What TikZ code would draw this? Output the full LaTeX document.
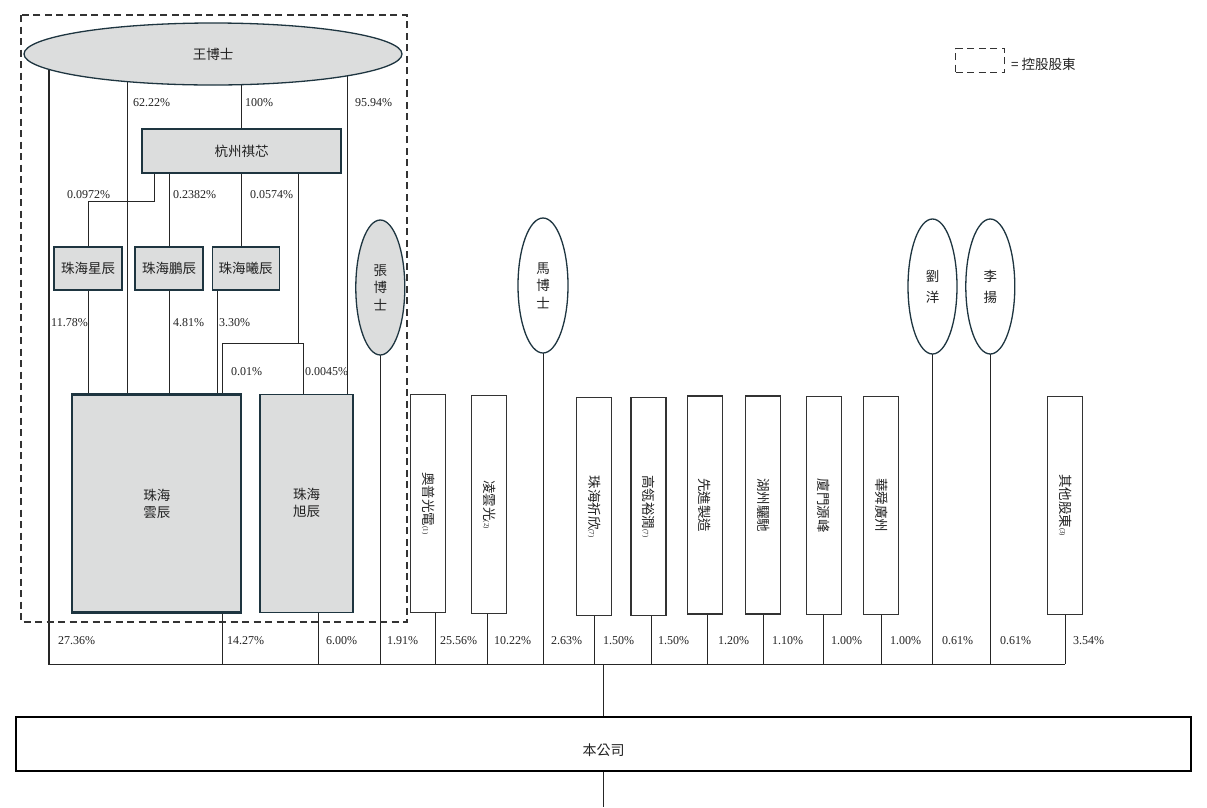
\documentclass[tikz,border=0pt]{standalone}
\usepackage{graphicx}
\usepackage{fontspec}
\setmainfont{Liberation Serif}
\newfontfamily\cjk{Noto Sans CJK TC}
\usetikzlibrary{shapes.geometric}
\pgfdeclarelayer{bg}
\pgfsetlayers{bg,main}
\definecolor{gfill}{HTML}{DCDDDD}
\definecolor{edgec}{HTML}{1E3540}
\definecolor{txt}{HTML}{222222}
\newcommand\myfn[1]{{\fontsize{7}{7}\selectfont\rmfamily #1}}
\tikzset{
  pct/.style={font=\fontsize{12}{14}\selectfont, text=txt, inner sep=0pt, anchor=west},
  cjkt/.style={font=\cjk\fontsize{13.5}{17.5}\selectfont, text=txt},
  gbox/.style={cjkt, draw=edgec, fill=gfill, line width=1.3pt, inner sep=0pt, align=center},
  vbox/.style={cjkt, draw=black!80, fill=white, line width=1.3pt, minimum width=35pt, minimum height=218pt, inner sep=0pt},
  pers/.style={cjkt, ellipse, draw=edgec, line width=1.3pt, inner sep=0pt, minimum width=49pt, minimum height=135pt, align=center},
  conn/.style={line width=0.9pt, draw=black!85},
  ctrl/.style={dash pattern=on 7pt off 4.5pt, line width=1.4pt, draw=black!80}
}
\begin{document}
\begin{tikzpicture}[x=1pt,y=-1pt]
\useasboundingbox (0,0) rectangle (1207,807);
% controlling shareholder group
\draw[ctrl] (21,15) rectangle (407,622);
% nodes
\node[pers, fill=gfill, minimum width=378pt, minimum height=62pt] (wang) at (213,54) {王博士};
\node[gbox, minimum width=199pt, minimum height=44pt] (hz) at (241.5,151) {杭州祺芯};
\node[gbox, minimum width=68pt, minimum height=43pt] (xc) at (88,268.5) {珠海星辰};
\node[gbox, minimum width=68pt, minimum height=43pt] (pc) at (169,268.5) {珠海鵬辰};
\node[gbox, minimum width=67pt, minimum height=43pt] (sc) at (245.7,268.5) {珠海曦辰};
\node[gbox, line width=2.3pt, minimum width=169pt, minimum height=218pt, font=\cjk\fontsize{13.5}{17}\selectfont] (yc) at (156.8,503.5) {珠海\\雲辰};
\node[gbox, minimum width=93pt, minimum height=218pt, font=\cjk\fontsize{13.5}{17}\selectfont] (xuc) at (306.5,503.3) {珠海\\旭辰};
\node[pers, fill=gfill] (zhang) at (380.3,287.5) {張\\博\\士};
\node[pers, fill=white, minimum width=50pt] (ma) at (543,285.5) {馬\\博\\士};
\node[pers, fill=white, font=\cjk\fontsize{13.5}{21}\selectfont] (liu) at (932.5,286.5) {劉\\洋};
\node[pers, fill=white, font=\cjk\fontsize{13.5}{21}\selectfont] (li) at (990.3,286.5) {李\\揚};
% tall boxes
\node[vbox] (aopu) at (428.3,503.3) {\rotatebox{-90}{奧普光電\myfn{(1)}}};
\node[vbox] (lingyun) at (489.2,504.5) {\rotatebox{-90}{凌雲光\myfn{(2)}}};
\node[vbox] (qixin) at (594.3,506.7) {\rotatebox{-90}{珠海祈欣\myfn{(7)}}};
\node[vbox] (gaoling) at (648.5,506.5) {\rotatebox{-90}{高瓴裕潤\myfn{(7)}}};
\node[vbox] (xianjin) at (704.8,505) {\rotatebox{-90}{先進製造}};
\node[vbox] (huzhou) at (763.3,505) {\rotatebox{-90}{湖州驪馳}};
\node[vbox] (xiamen) at (823.7,505.5) {\rotatebox{-90}{廈門源峰}};
\node[vbox] (huashun) at (881.2,505.2) {\rotatebox{-90}{華舜廣州}};
\node[vbox] (others) at (1065.3,505.2) {\rotatebox{-90}{其他股東\myfn{(3)}}};
% company
\node[draw=black, line width=1.5pt, minimum width=1175pt, minimum height=54pt, inner sep=0pt] (company) at (603.5,744) {};
\node[cjkt, font=\cjk\fontsize{14}{14}\selectfont, inner sep=0pt] (companyt) at (603.5,750) {本公司};
% legend
\node[draw, ctrl, minimum width=49pt, minimum height=24pt, inner sep=0pt] (leg) at (980.2,60.5) {};
\node[cjkt, anchor=west, inner sep=0pt] (legt) at (1011,64) {= 控股股東};
% coordinates
\coordinate (busL) at (49,664.3);
\coordinate (busR) at (1065.3,664.3);
\coordinate (x128) at (127.7,0);
\coordinate (x347) at (347,0);
\coordinate (x154) at (154,0);
\coordinate (x217) at (217,0);
\coordinate (x222) at (222,0);
\coordinate (j298) at (298,343);
\coordinate (x303) at (303,0);
\coordinate (x319) at (318.7,0);
\coordinate (x435) at (435,0);
\coordinate (x487) at (487.3,0);
\coordinate (x651) at (651,0);
\coordinate (x707) at (707.3,0);
\coordinate (bottomend) at (0,807);
\begin{pgfonlayer}{bg}
\draw[conn, line width=1.2pt] (busL |- wang.center) -- (busL) -- (busR);
\draw[conn] (x128 |- wang.center) -- (x128 |- yc.north);
\draw[conn] (hz.north |- wang.center) -- (hz.north);
\draw[conn] (x347 |- wang.center) -- (x347 |- xuc.north);
\draw[conn] (x154 |- hz.south) -- ++(0,28) -| (xc.north);
\draw[conn] (pc.north |- hz.south) -- (pc.north);
\draw[conn] (hz.south) -- (hz.south |- sc.north);
\draw[conn] (j298 |- hz.south) -- (j298);
\draw[conn] (x222 |- yc.north) -- (x222 |- j298) -- (x303 |- j298) -- (x303 |- xuc.north);
\draw[conn] (xc.south) -- (xc.south |- yc.north);
\draw[conn] (pc.south) -- (pc.south |- yc.north);
\draw[conn] (x217 |- sc.south) -- (x217 |- yc.north);
\draw[conn] (x222 |- yc.south) -- (x222 |- busL);
\draw[conn] (x319 |- xuc.south) -- (x319 |- busL);
\draw[conn] (zhang.center) -- (zhang.center |- busL);
\draw[conn] (ma.center) -- (ma.center |- busL);
\draw[conn] (liu.center) -- (liu.center |- busL);
\draw[conn] (li.center) -- (li.center |- busL);
\draw[conn] (x435 |- aopu.south) -- (x435 |- busL);
\draw[conn] (x487 |- lingyun.south) -- (x487 |- busL);
\draw[conn] (qixin.south) -- (qixin.south |- busL);
\draw[conn] (x651 |- gaoling.south) -- (x651 |- busL);
\draw[conn] (x707 |- xianjin.south) -- (x707 |- busL);
\draw[conn] (huzhou.south) -- (huzhou.south |- busL);
\draw[conn] (xiamen.south) -- (xiamen.south |- busL);
\draw[conn] (huashun.south) -- (huashun.south |- busL);
\draw[conn] (others.south) -- (others.south |- busR);
\draw[conn] (company.north |- busL) -- (company.north);
\draw[conn] (company.south) -- (company.south |- bottomend);
\end{pgfonlayer}
% percentages
\node[pct] (p1) at (133,103) {62.22\%};
\node[pct] (p2) at (245,103) {100\%};
\node[pct] (p3) at (355,103) {95.94\%};
\node[pct] (p4) at (67,195) {0.0972\%};
\node[pct] (p5) at (173,195) {0.2382\%};
\node[pct] (p6) at (250,195) {0.0574\%};
\node[pct] (p7) at (51,323) {11.78\%};
\node[pct] (p8) at (173,323) {4.81\%};
\node[pct] (p9) at (219,323) {3.30\%};
\node[pct] (p10) at (231,372) {0.01\%};
\node[pct] (p11) at (305,372) {0.0045\%};
\node[pct] (b1) at (58,641) {27.36\%};
\node[pct] (b2) at (227,641) {14.27\%};
\node[pct] (b3) at (326,641) {6.00\%};
\node[pct] (b4) at (387,641) {1.91\%};
\node[pct] (b5) at (440,641) {25.56\%};
\node[pct] (b6) at (494,641) {10.22\%};
\node[pct] (b7) at (551,641) {2.63\%};
\node[pct] (b8) at (603,641) {1.50\%};
\node[pct] (b9) at (658,641) {1.50\%};
\node[pct] (b10) at (718,641) {1.20\%};
\node[pct] (b11) at (772,641) {1.10\%};
\node[pct] (b12) at (831,641) {1.00\%};
\node[pct] (b13) at (890,641) {1.00\%};
\node[pct] (b14) at (942,641) {0.61\%};
\node[pct] (b15) at (1000,641) {0.61\%};
\node[pct] (b16) at (1073,641) {3.54\%};
\end{tikzpicture}
\end{document}
